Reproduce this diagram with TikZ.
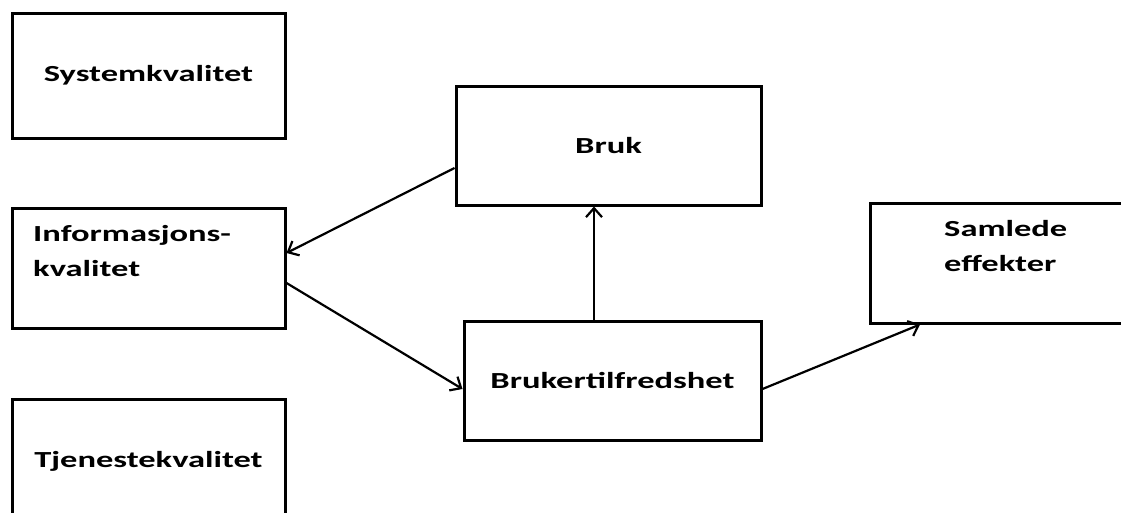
\documentclass[tikz,border=0pt]{standalone}
\usepackage{fontspec}
\setmainfont{Carlito}[FakeStretch=1.5]
\usetikzlibrary{arrows.meta}

\begin{document}
\begin{tikzpicture}[x=1pt,y=-1pt,
  box/.style={draw, line width=3pt, minimum width=273pt, minimum height=120pt,
    inner sep=0pt, font=\bfseries\fontsize{23}{35}\selectfont},
  boxtext/.style={inner sep=0pt, anchor=north west, align=left,
    font=\bfseries\fontsize{23}{35}\selectfont},
  link/.style={-{Straight Barb[length=9pt,width=16pt]}, line width=2.2pt}]
\useasboundingbox (0,0) rectangle (1121,512);
\clip (0,0) rectangle (1121,512);

% left column
\node[box, minimum height=125pt] (system) at (148.5,75.5) {Systemkvalitet};
\node[box] (info) at (148.5,268) {};
\node[boxtext] (infotext) at (33,225) {Informasjons-\\kvalitet};
\node[box, minimum height=124pt] (tjeneste) at (148.5,461) {Tjenestekvalitet};

% middle column
\node[box, minimum width=305pt, minimum height=119pt] (bruk) at (608.5,145.5) {Bruk};
\node[box, minimum width=297pt, minimum height=119pt] (bruker) at (612.5,380.5) {Brukertilfredshet};

% right column
\node[box, minimum width=300pt] (samlede) at (1020,263) {};
\node[boxtext] (samletext) at (944,220) {Samlede\\effekter};

% arrows
\draw[link] ([yshift=-22.5pt]bruk.west) -- ([yshift=15pt]info.east);
\draw[link] ([yshift=-15pt]info.east) -- ([yshift=-8.5pt]bruker.west);
\draw[link] ([xshift=-18.5pt]bruker.north) -- ([xshift=-14.5pt]bruk.south);
\draw[link] ([yshift=-8.5pt]bruker.east) -- ([xshift=-100pt]samlede.south);
\end{tikzpicture}
\end{document}
